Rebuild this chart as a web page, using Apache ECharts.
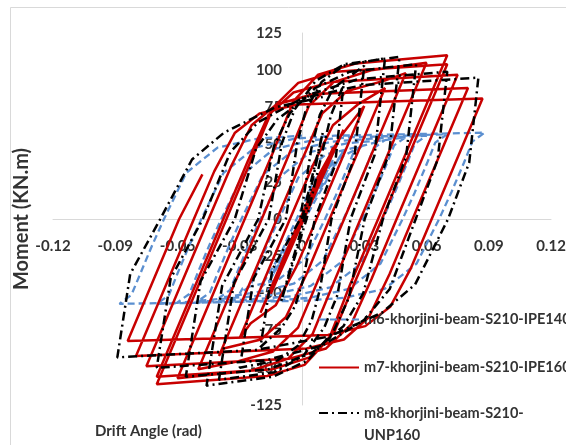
<!DOCTYPE html>
<html><head><meta charset="utf-8">
<script src="https://cdn.jsdelivr.net/npm/echarts@6/dist/echarts.min.js"></script>
<style>html,body{margin:0;padding:0;background:#fff}#c{width:566px;height:445px}</style>
</head><body><div id="c"></div>
<script>
// Series names (legend)
const seriesNames = ['m6-khorjini-beam-S210-IPE140', 'm7-khorjini-beam-S210-IPE160', 'm8-khorjini-beam-S210-UNP160'];
const axisTitles = ['Drift Angle (rad)', 'Moment (KN.m)'];

// Axis ranges / ticks
const xMin = -0.12, xMax = 0.12, xStep = 0.03;
const yMin = -125, yMax = 125, yStep = 25;

// m6 : drift (rad), moment (kN.m)
const m6 = [
[0,0],[0.005,15],[-0.005,-15],[0.01,30],[-0.01,-30],[0.015,40],[-0.015,-40],[0.02,46],[-0.02,-46],
[-0.0153,-41],[-0.0122,-30],[-0.0073,-14],[-0.0026,0],[0.0061,26.5],[0.0183,41],[0.03,50],
[0.0249,45],[0.0215,33],[0.0162,15.5],[0.0111,0],[0.0017,-26.5],[-0.0116,-41],[-0.0286,-46.5],[-0.03,-50],
[-0.0249,-45],[-0.0215,-33],[-0.0162,-15.5],[-0.0111,0],[-0.0017,28],[0.0116,43.5],[0.0286,49],[0.04,53],
[0.0346,47.7],[0.031,35],[0.0254,16.4],[0.02,0],[0.01,-28],[-0.004,-43.5],[-0.022,-49.3],[-0.04,-53],
[-0.0346,-47.7],[-0.031,-35],[-0.0254,-16.4],[-0.02,0],[-0.01,29],[0.004,45],[0.022,51],[0.04,53],[0.05,55],
[0.0444,49.5],[0.0406,36.3],[0.0348,17],[0.0292,0],[0.0188,-29],[0.0042,-45],[-0.0145,-51],[-0.0332,-53],[-0.05,-55],
[-0.0444,-49.5],[-0.0406,-36.3],[-0.0348,-17],[-0.0292,0],[-0.0188,29.7],[-0.0042,46],[0.0145,52],[0.0332,54],[0.06,56],
[0.0543,50.4],[0.0505,37],[0.0446,17.4],[0.0389,0],[0.0284,-30],[0.0136,-46],[-0.0054,-52],[-0.0244,-54],[-0.06,-56],
[-0.0543,-50.4],[-0.0505,-37],[-0.0446,-17.4],[-0.0389,0],[-0.0284,30],[-0.0136,47],[0.0054,53],[0.0244,55],[0.07,57],
[0.0642,51.3],[0.0603,37.6],[0.0543,17.7],[0.0485,0],[0.0378,-30],[0.0227,-47],[0.0034,-53],[-0.016,-55],[-0.07,-57],
[-0.0642,-51.3],[-0.0603,-37.6],[-0.0543,-17.7],[-0.0485,0],[-0.0378,31],[-0.0227,48],[-0.0034,54],[0.016,56],[0.088,58],
[0.0821,52],[0.0781,38],[0.072,18],[0.0661,0],[0.0552,-30],[0.0398,-47],[0.0201,-53],[0.0004,-55],[-0.088,-57],
[-0.0822,-51],[-0.0783,-38],[-0.0723,-18],[-0.0665,0],[-0.0558,31],[-0.0407,48],[-0.0214,54],[0,56]
];

// m7
const m7 = [
[0,0],[0.005,17],[-0.005,-17],[0.01,33],[-0.01,-34],[0.015,48],[-0.015,-50],[0.02,60],[-0.02,-63],
[-0.0009,0],[0.0083,30],[0.0183,55],[0.03,76],
[0.007,0],[-0.0027,-32],[-0.0127,-58],[-0.0247,-70],[-0.03,-80],
[-0.0058,0],[0.0049,35],[0.0149,63],[0.0269,77],[0.04,88],
[0.0133,0],[0.0022,-37],[-0.0078,-66],[-0.0198,-81],[-0.0378,-87],[-0.04,-92],
[-0.0121,0],[-0.0002,39],[0.0098,71],[0.0218,86],[0.0398,93],[0.05,98],
[0.0203,0],[0.0081,-40],[-0.0019,-73],[-0.0139,-89],[-0.0319,-96],[-0.05,-101],
[-0.0194,0],[-0.0067,42],[0.0033,76],[0.0153,92],[0.0333,100],[0.06,105],
[0.0282,0],[0.0152,-43],[0.0052,-77],[-0.0068,-94],[-0.0248,-102],[-0.06,-107],
[-0.0276,0],[-0.0142,44],[-0.0042,79],[0.0078,97],[0.0258,104.5],[0.07,110],
[0.0367,0],[0.0232,-44],[0.0132,-80],[0.0012,-98],[-0.0168,-105.5],[-0.07,-111],
[-0.0364,0],[-0.0238,42],[-0.0138,75],[-0.0018,91.5],[0.0162,99],[0.07,104],
[0.0385,0],[0.0256,-42],[0.0156,-76],[0.0036,-93],[-0.0144,-101],[-0.07,-106],
[-0.0379,0],[-0.0261,39],[-0.0161,70],[-0.0041,85],[0.0139,92],[0.075,97],
[0.0456,0],[0.0336,-40],[0.0236,-71],[0.0116,-87],[-0.0064,-94],[-0.075,-99],
[-0.045,0],[-0.0343,35],[-0.0243,63],[-0.0123,77],[0.0057,84],[0.08,88],
[0.0533,0],[0.0422,-37],[0.0322,-66],[0.0202,-81],[0.0022,-87],[-0.08,-92],
[-0.0521,0],[-0.0423,32],[-0.0323,58],[-0.0203,71],[-0.0023,77],[0.087,81],
[0.0625,0],[0.0525,-33],[0.0425,-59],[0.0305,-72],[0.0125,-78],[-0.084,-82],
[-0.0592,0],[-0.048,30]
];

// m8
const m8 = [
[0,0],[0.01,58],[0.0011,0],[-0.01,-55],
[0.0022,0],[0.014,70],[0.02,90],
[0.0159,36],[0.0062,0],[0.0007,-40],[-0.0033,-58.5],[-0.0098,-73],[-0.02,-86],
[-0.0143,-34],[-0.0009,0],[0.0046,48],[0.0086,70],[0.0151,88],[0.0251,98],[0.03,103],
[0.0252,41],[0.0142,0],[0.0087,-47],[0.0047,-68],[-0.0018,-85],[-0.0118,-95],[-0.03,-100],
[-0.0233,-40],[-0.0078,0],[-0.0023,51],[0.0018,73],[0.0094,92],[0.0199,103],[0.04,108],
[0.035,43],[0.0234,0],[0.0171,-51],[0.0107,-73],[0.0006,-92],[-0.0134,-103],[-0.04,-108],
[-0.0328,-43],[-0.016,0],[-0.0097,51],[-0.0034,74],[0.0067,93],[0.0205,104],[0.047,109],
[0.042,44],[0.0302,0],[0.0226,-53],[0.015,-76],[0.0028,-95],[-0.014,-106],[-0.046,-112],
[-0.0385,-45],[-0.0211,0],[-0.0135,49],[-0.0059,71],[0.0063,88],[0.023,99],[0.055,104],
[0.0502,42],[0.039,0],[0.0295,-50],[0.02,-72],[0.0048,-90],[-0.0161,-101],[-0.056,-106],
[-0.0489,-42],[-0.0324,0],[-0.0222,47],[-0.0119,67],[0.0045,84],[0.027,94],[0.07,99],
[0.0654,40],[0.0548,0],[0.0423,-47],[0.0298,-68],[0.0099,-85],[-0.0176,-95],[-0.07,-100],
[-0.0633,-40],[-0.0478,0],[-0.0345,45],[-0.0212,65],[0,81],[0.0292,90],[0.085,95],
[0.0806,38],[0.0704,0],[0.0545,-44],[0.0385,-63],[0.013,-79],[-0.0221,-88],[-0.089,-93],
[-0.0828,-37],[-0.0683,0],[-0.053,40],[-0.0376,58],[-0.0131,75],[0.01,82]
];

const FONT = 'Lato, "Open Sans", sans-serif';
const TXT = '#333333';
const GRID = {left: 53, right: 15, top: 33, bottom: 40};
const chart = echarts.init(document.getElementById('c'), null, {renderer: 'canvas'});

// place both axes through the origin with a pixel offset
const plotW = 566 - GRID.left - GRID.right, plotH = 445 - GRID.top - GRID.bottom;
const yOffset = -plotW * (0 - xMin) / (xMax - xMin);
const xOffset = -plotH * (0 - yMin) / (yMax - yMin);

const legendText = {fontFamily: FONT, fontWeight: 'bold', fontSize: 14.5, color: TXT};

chart.setOption({
  animation: false,
  backgroundColor: '#ffffff',
  graphic: [{
    type: 'rect', silent: true, z: -10,
    shape: {x: 10.5, y: 7.5, width: 600, height: 500},
    style: {fill: 'none', stroke: '#d9d9d9', lineWidth: 1}
  }],
  title: {
    text: axisTitles[0], left: 95, top: 424, padding: 0,
    textStyle: {fontFamily: FONT, fontWeight: 'bold', fontSize: 15, color: TXT}
  },
  grid: Object.assign({containLabel: false, outerBoundsMode: 'none'}, GRID),
  xAxis: {
    type: 'value', min: xMin, max: xMax, interval: xStep, position: 'bottom', offset: xOffset,
    axisLine: {onZero: false, lineStyle: {color: '#d9d9d9', width: 1}},
    axisTick: {show: false},
    splitLine: {show: false},
    axisLabel: {
      margin: 20, showMinLabel: true, showMaxLabel: true,
      fontFamily: FONT, fontWeight: 'bold', fontSize: 15, color: TXT,
      formatter: v => Math.abs(v) < 1e-9 ? '0' : v.toFixed(2)
    }
  },
  yAxis: {
    type: 'value', min: yMin, max: yMax, interval: yStep, position: 'left', offset: yOffset,
    name: axisTitles[1], nameLocation: 'middle', nameGap: 270, nameRotate: 90,
    nameTextStyle: {fontFamily: FONT, fontWeight: 'bold', fontSize: 20, color: TXT},
    axisLine: {show: true, onZero: false, lineStyle: {color: '#d9d9d9', width: 1}},
    axisTick: {show: false},
    splitLine: {show: false},
    axisLabel: {
      margin: 20, showMinLabel: true, showMaxLabel: true,
      fontFamily: FONT, fontWeight: 'bold', fontSize: 15, color: TXT
    }
  },
  legend: [
    {data: [seriesNames[0]], left: 318, top: 312, padding: 0, itemWidth: 40, itemHeight: 14,
      itemStyle: {opacity: 0}, textStyle: legendText},
    {data: [seriesNames[1]], left: 318, top: 360, padding: 0, itemWidth: 40, itemHeight: 14,
      itemStyle: {opacity: 0}, textStyle: legendText},
    {data: [seriesNames[2]], left: 318, top: 380, padding: 0, itemWidth: 40, itemHeight: 14,
      itemStyle: {opacity: 0},
      formatter: n => '\n' + n.replace('S210-', 'S210-\n'),
      textStyle: Object.assign({}, legendText, {lineHeight: 22})}
  ],
  series: [
    {name: seriesNames[0], type: 'line', data: m6, symbol: 'none', z: 2,
      lineStyle: {color: '#5b8fd0', width: 2.3, type: [7, 4]}, itemStyle: {color: '#5b8fd0'}},
    {name: seriesNames[1], type: 'line', data: m7, symbol: 'none', z: 3,
      lineStyle: {color: '#c80000', width: 2.5, type: 'solid'}, itemStyle: {color: '#c80000'}},
    {name: seriesNames[2], type: 'line', data: m8, symbol: 'none', z: 4,
      lineStyle: {color: '#000000', width: 2.5, type: [9, 4, 2, 4]}, itemStyle: {color: '#000000'}}
  ]
});
</script></body></html>
